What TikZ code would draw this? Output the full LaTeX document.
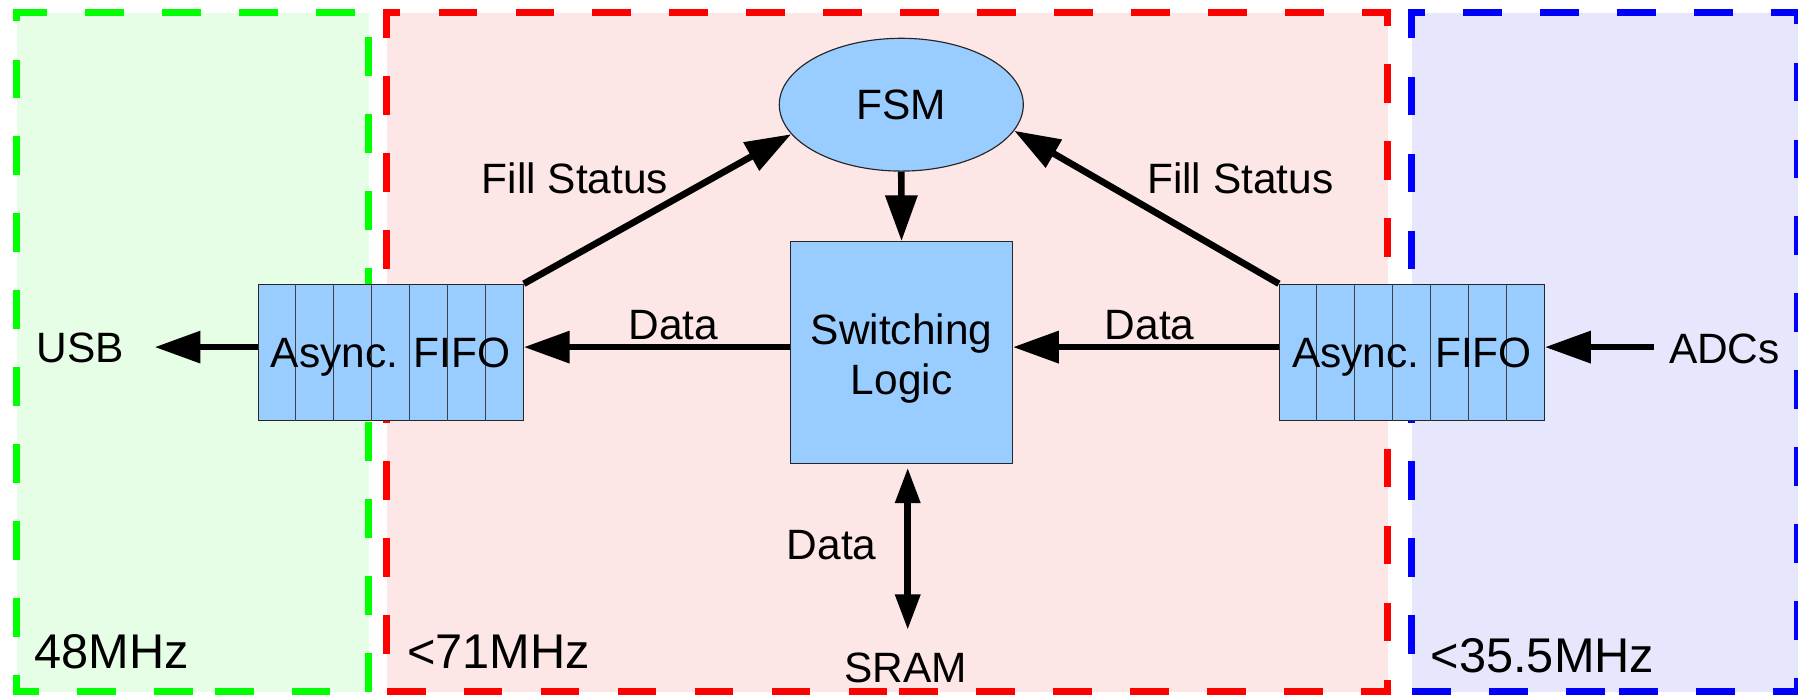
\documentclass[tikz,border=0pt]{standalone}
\usepackage{fontspec}
\setmainfont{Liberation Sans}
\usetikzlibrary{arrows.meta,shapes.geometric,calc}
\definecolor{boxblue}{HTML}{99CCFF}
\definecolor{gfill}{HTML}{E6FDE6}
\definecolor{rfill}{HTML}{FDE6E6}
\definecolor{bfill}{HTML}{E6E6FC}
\definecolor{gline}{HTML}{00FF00}
\definecolor{rline}{HTML}{FF0000}
\definecolor{bline}{HTML}{0000FF}
\begin{document}
\begin{tikzpicture}[x=1pt,y=-1pt,
  region/.style={line width=6.3pt, dash pattern=on 33.7pt off 33.4pt},
  blockbox/.style={draw=black!85, line width=1pt, fill=boxblue, inner sep=0pt},
  divider/.style={draw=black!75, line width=0.9pt},
  lbl/.style={font=\fontsize{37}{43.6}\selectfont, inner sep=0pt},
  big/.style={font=\fontsize{42.5}{50}\selectfont, inner sep=0pt, anchor=base west},
  arr/.style={line width=5.8pt, -{Triangle[length=40pt,width=27pt]}},
  dbl/.style={line width=5.8pt, {Triangle[length=31pt,width=21pt]}-{Triangle[length=31pt,width=21pt]}},
]
\useasboundingbox (0,0) rectangle (1568,607);

% clock-domain regions
\fill[gfill] (14.7,11.2) rectangle (321.5,603.2);
\fill[rfill] (337.3,11.2) rectangle (1210.1,603.2);
\fill[bfill] (1231.1,11.2) rectangle (1568,603.2);
\draw[region, draw=gline] (168.1,603.2) -- (14.7,603.2) -- (14.7,11.2) -- (321.5,11.2) -- (321.5,603.2) -- cycle;
\draw[region, draw=rline] (773.7,603.2) -- (337.3,603.2) -- (337.3,11.2) -- (1210.1,11.2) -- (1210.1,603.2) -- cycle;
\draw[region, draw=bline] (1399.5,603.2) -- (1231.1,603.2) -- (1231.1,11.2) -- (1568,11.2) -- (1568,603.2) -- cycle;

\node[big] (f48) at (30,582.8) {48MHz};
\node[big] (f71) at (355,582.8) {<71MHz};
\node[big] (f35) at (1247.5,586.3) {<35.5MHz};

% blocks
\node[ellipse, blockbox, minimum width=212.8pt, minimum height=115.8pt, font=\fontsize{37}{43.6}\selectfont] (fsm) at (786,91.3) {FSM};
\node[blockbox, minimum width=193.3pt, minimum height=193.3pt] (sw) at (786.2,307.5) {};
\node[lbl, align=center, anchor=north] (swtext) at (786.2,273.5) {Switching\\Logic};
\node[blockbox, minimum width=231pt, minimum height=118.7pt] (fifoL) at (340.8,307.3) {};
\node[blockbox, minimum width=231pt, minimum height=118.7pt] (fifoR) at (1231.3,307.3) {};
\foreach \f in {fifoL,fifoR}{
  \foreach \k in {1,...,6}{
    \draw[divider] ($(\f.north west)!\k/7!(\f.north east)$) -- ($(\f.south west)!\k/7!(\f.south east)$);
  }
}
\node[lbl, anchor=base] (aL) at (340.8,320.6) {Async. FIFO};
\node[lbl, anchor=base] (aR) at (1231.3,320.6) {Async. FIFO};

% external labels
\node[lbl, anchor=base] (usb) at (70,316.5) {USB};
\node[lbl, anchor=base] (adcs) at (1503.8,317.4) {ADCs};
\node[lbl, anchor=base] (sram) at (789.9,595.3) {SRAM};

% edge labels
\node[lbl, anchor=base] (fsL) at (501.4,168.6) {Fill Status};
\node[lbl, anchor=base] (fsR) at (1081.6,168.6) {Fill Status};
\node[lbl, anchor=base] (dL) at (587.2,295.9) {Data};
\node[lbl, anchor=base] (dR) at (1002.6,295.9) {Data};
\node[lbl, anchor=base] (dS) at (725.3,487.8) {Data};

% connectors
\draw[arr] (fifoL.north east) -- (fsm.195.8);
\draw[arr] (fifoR.north west) -- (fsm.347.6);
\draw[arr] (fsm.south) -- (sw.north);
\draw[arr] ([yshift=4.8pt]sw.west) -- ([yshift=4.6pt]fifoL.east);
\draw[arr] ([yshift=4.6pt]fifoR.west) -- ([yshift=4.8pt]sw.east);
\draw[arr] ([yshift=4.6pt]fifoL.west) -- ([xshift=26.6pt,yshift=4.6pt]fifoL.west -| usb.east);
\draw[arr] ([xshift=-13.2pt,yshift=4.6pt]fifoR.east -| adcs.west) -- ([yshift=4.6pt]fifoR.east);
\draw[dbl] ([xshift=5.4pt,yshift=-3.2pt]sw.south) -- ([xshift=5.4pt,yshift=20pt]sw.south |- sram.north);
\end{tikzpicture}
\end{document}
